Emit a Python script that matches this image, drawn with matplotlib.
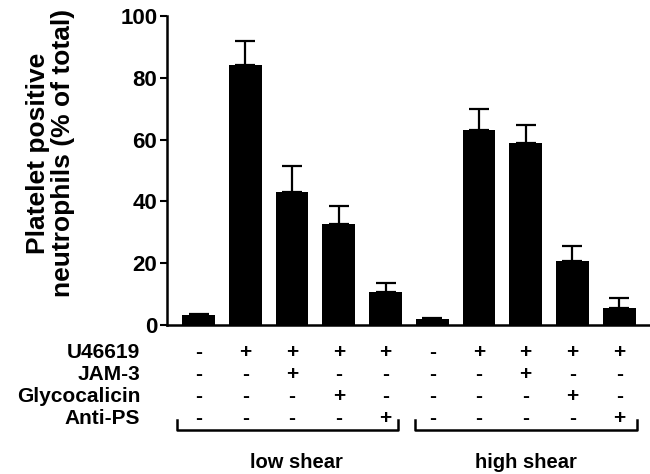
import numpy as np
import matplotlib
matplotlib.use("Agg")
from matplotlib import pyplot as plt
from matplotlib import transforms

plt.rcParams['font.family'] = ['Liberation Sans', 'DejaVu Sans']
plt.rcParams['font.weight'] = 'bold'

# bar values (% platelet positive neutrophils) and upper SEM
means = [3.2, 84.1, 42.9, 32.8, 10.8, 1.8, 63.1, 59.0, 20.8, 5.6]
errs = [0.3, 7.9, 8.7, 5.8, 2.7, 0.6, 6.7, 5.8, 4.8, 3.0]

row_labels = ["U46619", "JAM-3", "Glycocalicin", "Anti-PS"]
signs = [
    ["-", "+", "+", "+", "+", "-", "+", "+", "+", "+"],
    ["-", "-", "+", "-", "-", "-", "-", "+", "-", "-"],
    ["-", "-", "-", "+", "-", "-", "-", "-", "+", "-"],
    ["-", "-", "-", "-", "+", "-", "-", "-", "-", "+"],
]
groups = ["low shear", "high shear"]

fig = plt.figure(figsize=(6.5, 4.74), dpi=100)
ax = fig.add_axes([0.257, 0.3143, 0.743, 0.652])

x = np.arange(len(means))
ax.bar(x, means, width=0.7, color="black", zorder=2)
ax.errorbar(x, means, yerr=[np.zeros(len(errs)), errs], fmt="none",
            ecolor="black", elinewidth=1.6, capsize=7, capthick=1.6, zorder=1)

ax.set_xlim(-0.675, 9.66)
ax.set_ylim(0, 100)
ax.set_yticks([0, 20, 40, 60, 80, 100])
ax.set_xticks([])
ax.spines["top"].set_visible(False)
ax.spines["right"].set_visible(False)
ax.spines["left"].set_linewidth(1.8)
ax.spines["bottom"].set_linewidth(1.8)
ax.tick_params(axis="y", width=1.5, length=5, labelsize=16, pad=2)
for lbl in ax.get_yticklabels():
    lbl.set_fontweight("bold")
ax.set_ylabel("Platelet positive\nneutrophils (% of total)", fontsize=19,
              fontweight="bold", linespacing=1.08)
ax.yaxis.set_label_coords(-0.19, 0.557)

# treatment table below axis
trans = transforms.blended_transform_factory(ax.transData, fig.transFigure)
row_y = [352, 374, 396, 418]
for r, lab in enumerate(row_labels):
    fy = 1 - row_y[r] / 474
    fig.text(140 / 650, fy, lab, ha="right", va="center", fontsize=15,
             fontweight="bold")
    for i, s in enumerate(signs[r]):
        ax.text(x[i], fy, s, transform=trans, ha="center", va="center",
                fontsize=15, fontweight="bold", clip_on=False)

# brackets
yb = 1 - 430 / 474
yt = 1 - 420 / 474
for x0, x1 in [(-0.46, 4.27), (4.64, 9.39)]:
    ax.plot([x0, x0, x1, x1], [yt, yb, yb, yt], color="black", lw=1.8,
            transform=trans, clip_on=False)

ax.text(2.09, 1 - 462 / 474, groups[0], transform=trans, ha="center",
        va="center", fontsize=14.5, fontweight="bold")
ax.text(7.0, 1 - 462 / 474, groups[1], transform=trans, ha="center",
        va="center", fontsize=14.5, fontweight="bold")

fig.savefig("out.png", dpi=100)
